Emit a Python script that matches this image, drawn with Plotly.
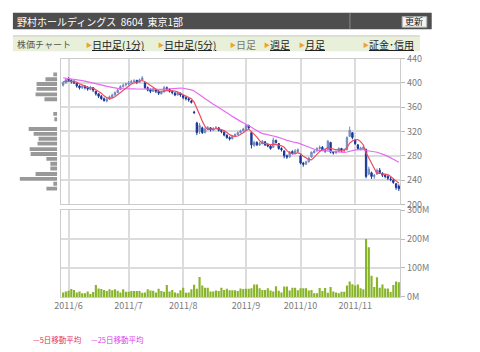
import pandas as pd
import plotly.graph_objects as go

# ---------------- data ----------------
start_date = "2011-05-30"
end_date = "2011-11-25"
jp_holidays = ["2011-07-18", "2011-09-19", "2011-09-23", "2011-10-10", "2011-11-03", "2011-11-23"]
month_labels = ["2011/6", "2011/7", "2011/8", "2011/9", "2011/10", "2011/11"]

opens = [396, 400, 406, 404, 401, 399, 395, 392, 395, 393, 389, 392, 386, 382, 378, 374, 370, 373, 376, 380,
         384, 389, 394, 397, 398, 400, 402, 404, 401, 405, 400, 392, 389, 386, 389, 386, 382, 385, 392, 389,
         386, 383, 380, 383, 379, 376, 374, 370, 352, 334, 320, 326, 318, 324, 326, 322, 325, 326, 322, 319,
         314, 310, 308, 312, 315, 318, 321, 322, 330, 318, 297, 302, 298, 300, 303, 299, 296, 294, 305, 300,
         292, 288, 280, 278, 287, 284, 287, 280, 268, 266, 270, 278, 285, 289, 292, 294, 289, 290, 302, 286,
         285, 287, 292, 289, 290, 312, 318, 306, 298, 290, 292, 290, 250, 252, 246, 250, 256, 251, 248, 246,
         242, 240, 234, 230]
highs = [402, 408, 409, 406, 405, 400, 397, 397, 396, 394, 395, 393, 387, 383, 380, 376, 375, 379, 382, 386,
         390, 396, 399, 400, 403, 405, 406, 405, 407, 411, 401, 394, 391, 392, 390, 388, 387, 395, 394, 391,
         388, 385, 386, 384, 380, 378, 376, 372, 354, 336, 334, 328, 327, 329, 327, 327, 329, 327, 323, 320,
         315, 312, 314, 317, 320, 323, 326, 332, 331, 320, 305, 304, 303, 306, 304, 300, 298, 310, 307, 301,
         294, 289, 282, 288, 289, 291, 292, 282, 270, 272, 278, 287, 290, 294, 297, 296, 292, 306, 303, 288,
         289, 294, 293, 292, 312, 328, 319, 307, 299, 295, 296, 292, 262, 254, 250, 259, 260, 253, 250, 248,
         246, 242, 235, 233]
lows = [394, 399, 402, 399, 398, 392, 389, 390, 389, 387, 388, 385, 379, 375, 372, 369, 368, 372, 375, 379,
        383, 388, 392, 394, 396, 399, 400, 398, 400, 404, 390, 386, 383, 385, 383, 380, 381, 384, 387, 384,
        381, 378, 379, 377, 373, 371, 369, 366, 349, 314, 316, 316, 317, 322, 320, 321, 324, 320, 317, 312,
        308, 305, 307, 311, 314, 317, 320, 320, 324, 292, 295, 296, 296, 299, 296, 294, 290, 293, 300, 290,
        287, 276, 275, 277, 282, 283, 286, 266, 262, 265, 269, 277, 284, 286, 290, 288, 285, 289, 284, 282,
        283, 286, 286, 285, 289, 311, 307, 298, 290, 289, 290, 243, 248, 242, 242, 249, 250, 245, 243, 240,
        238, 234, 224, 222]
closes = [400, 405, 404, 402, 400, 395, 392, 394, 392, 390, 392, 388, 382, 378, 374, 371, 373, 377, 380, 384,
          388, 394, 396, 398, 400, 402, 403, 401, 405, 408, 392, 388, 386, 390, 386, 383, 385, 392, 390, 386,
          384, 380, 384, 380, 376, 374, 372, 368, 351, 318, 330, 318, 324, 326, 323, 325, 326, 322, 320, 314,
          310, 308, 312, 315, 318, 321, 324, 330, 326, 298, 302, 298, 300, 304, 298, 296, 292, 306, 302, 292,
          290, 280, 278, 286, 284, 288, 290, 268, 266, 270, 276, 286, 288, 292, 294, 290, 288, 304, 286, 285,
          286, 292, 290, 290, 310, 322, 310, 300, 292, 293, 294, 246, 258, 246, 248, 256, 252, 248, 246, 243,
          241, 236, 228, 226]
# closes before the visible window (feed the moving averages only)
prior_closes = [418, 420, 416, 414, 417, 415, 412, 414, 413, 411, 410, 408, 406, 404, 407, 405, 403, 404, 402,
                401, 402, 404, 403, 401]
volume_m = [15, 19, 21, 27, 24, 15, 19, 13, 13, 19, 10, 17, 41, 29, 27, 24, 20, 26, 23, 26,
            21, 15, 26, 18, 18, 20, 20, 20, 20, 14, 15, 26, 22, 21, 15, 28, 20, 18, 41, 19,
            24, 15, 13, 23, 32, 14, 15, 26, 42, 28, 69, 39, 32, 32, 19, 19, 22, 20, 32, 24,
            28, 23, 23, 23, 20, 29, 27, 28, 28, 30, 43, 43, 30, 24, 24, 30, 22, 19, 37, 21,
            15, 36, 36, 22, 32, 32, 23, 30, 30, 30, 22, 24, 13, 13, 31, 20, 31, 14, 34, 19,
            15, 13, 18, 18, 39, 53, 44, 39, 43, 30, 26, 200, 172, 73, 34, 68, 32, 43, 29, 29,
            17, 41, 53, 51]
# volume-by-price profile (left side)
vbp_price = [414, 406, 398, 390, 381, 373, 365, 357, 349, 340, 332, 324, 316, 308, 300, 291, 283, 275, 267,
             259, 250, 242, 234, 226]
vbp_volume = [4, 12, 21, 21, 22, 13, 0, 0, 4, 3, 0, 29, 24, 19, 20, 28, 27, 11, 7, 7, 22, 38, 4, 11]

price_ticks = [200, 240, 280, 320, 360, 400, 440]
vol_ticks = [0, 100, 200, 300]
vol_labels = ["0M", "100M", "200M", "300M"]

# ---------------- derived ----------------
dates = [d for d in pd.bdate_range(start_date, end_date) if d.strftime("%Y-%m-%d") not in jp_holidays]
idx = list(range(len(dates)))
month_idx = []
for i, d in enumerate(dates):
    if i > 0 and d.month != dates[i - 1].month:
        month_idx.append(i)

allc = prior_closes + closes
n0 = len(prior_closes)
ma5 = [sum(allc[n0 + i - 4:n0 + i + 1]) / 5 for i in idx]
ma25 = [sum(allc[n0 + i - 24:n0 + i + 1]) / 25 for i in idx]

W, H = 480, 352
def px(x):
    return x / W
def py(y):
    return 1 - y / H

FONT = "Noto Sans CJK JP"
GRID = "#dcdcdc"
BORDER = "#cccccc"

fig = go.Figure()
fig.add_trace(go.Candlestick(
    x=idx, open=opens, high=highs, low=lows, close=closes,
    xaxis="x", yaxis="y", showlegend=False, hoverinfo="skip",
    increasing=dict(fillcolor="#93a8d6", line=dict(color="#6f86c0", width=1)),
    decreasing=dict(fillcolor="#183896", line=dict(color="#183896", width=1)),
))
fig.add_trace(go.Scatter(x=idx, y=ma25, mode="lines", line=dict(color="#e36cf2", width=1.2),
                         xaxis="x", yaxis="y", showlegend=False, hoverinfo="skip"))
fig.add_trace(go.Scatter(x=idx, y=ma5, mode="lines", line=dict(color="#f04a64", width=1.2),
                         xaxis="x", yaxis="y", showlegend=False, hoverinfo="skip"))
fig.add_trace(go.Bar(x=idx, y=volume_m, xaxis="x2", yaxis="y2", showlegend=False, hoverinfo="skip",
                     marker=dict(color="#88b42a", line=dict(width=0))))
fig.add_trace(go.Bar(x=vbp_volume, y=vbp_price, orientation="h", width=6.4, xaxis="x3", yaxis="y3",
                     showlegend=False, hoverinfo="skip", marker=dict(color="#999999", line=dict(width=0))))

xr = [-0.7, 123.5]
common_x = dict(range=xr, tickvals=month_idx, showgrid=True, gridcolor=GRID, gridwidth=1.5,
                zeroline=False, showline=True, mirror=True, linecolor=BORDER, ticks="",
                fixedrange=True)
fig.update_layout(
    width=W, height=H, margin=dict(l=0, r=0, t=0, b=0),
    paper_bgcolor="white", plot_bgcolor="white",
    font=dict(family=FONT, size=9, color="#777"),
    bargap=0.22,
    xaxis=dict(domain=[px(55), px(399)], anchor="y", showticklabels=False,
               rangeslider=dict(visible=False), **common_x),
    yaxis=dict(domain=[py(205), py(53.5)], anchor="x", range=[200, 440], tickvals=price_ticks,
               side="right", ticks="outside", ticklen=4, tickcolor="#bbb",
               tickfont=dict(size=9, color="#7a7a7a"), showgrid=True, gridcolor=GRID, gridwidth=1.5,
               zeroline=False, showline=True, mirror=True, linecolor=BORDER),
    xaxis2=dict(domain=[px(55), px(399)], anchor="y2", ticktext=month_labels, showticklabels=True,
                tickfont=dict(size=9, color="#7a7a7a"), **common_x),
    yaxis2=dict(domain=[py(301), py(211)], anchor="x2", range=[0, 300], tickvals=vol_ticks,
                ticktext=vol_labels, side="right", ticks="outside", ticklen=4, tickcolor="#bbb",
                tickfont=dict(size=9, color="#7a7a7a"), showgrid=True, gridcolor=GRID, gridwidth=1.5,
                zeroline=False, showline=True, mirror=True, linecolor=BORDER),
    xaxis3=dict(domain=[px(10), px(51)], anchor="y3", range=[41, 0], visible=False),
    yaxis3=dict(domain=[py(205), py(53.5)], anchor="x3", range=[200, 440], visible=False),
)

shapes = []
annos = []
# header bar
shapes.append(dict(type="rect", xref="paper", yref="paper", x0=px(6), x1=px(431), y0=py(23), y1=py(6),
                   fillcolor="#4e4e4e", line=dict(width=0), layer="below"))
shapes.append(dict(type="line", xref="paper", yref="paper", x0=px(348), x1=px(348), y0=py(23), y1=py(6),
                   line=dict(color="#8a8a8a", width=1)))
shapes.append(dict(type="rect", xref="paper", yref="paper", x0=px(401), x1=px(426), y0=py(21), y1=py(10),
                   fillcolor="#f2f2f2", line=dict(color="#aaa", width=1)))
annos.append(dict(x=px(413.5), y=py(15.5), xanchor="center", text="更新",
                  font=dict(size=9, color="#222", family=FONT)))
annos.append(dict(x=px(8), y=py(15), xanchor="left", text="野村ホールディングス  8604  東京1部",
                  font=dict(size=10, color="white", family=FONT)))
# nav bar
shapes.append(dict(type="rect", xref="paper", yref="paper", x0=px(6), x1=px(419), y0=py(46), y1=py(30),
                   fillcolor="#e8f0d9", line=dict(width=0), layer="below"))
shapes.append(dict(type="line", xref="paper", yref="paper", x0=px(6), x1=px(419), y0=py(30), y1=py(30),
                   line=dict(color="#c8c8c8", width=1)))
annos.append(dict(x=px(8), y=py(38.5), xanchor="left", text="株価チャート",
                  font=dict(size=9, color="#555", family=FONT)))
nav_items = [(84, "<u>日中足(1分)</u>", "#222"), (157, "<u>日中足(5分)</u>", "#222"),
             (230, "日足", "#777"), (265, "<u>週足</u>", "#222"), (300, "<u>月足</u>", "#222"),
             (365, "<u>証金･信用</u>", "#222")]
for x0, t, c in nav_items:
    annos.append(dict(x=px(x0 - 6), y=py(38.5), xanchor="left", text="▶",
                      font=dict(size=6, color="#f3a02a", family=FONT)))
    annos.append(dict(x=px(x0), y=py(38.5), xanchor="left", text=t,
                      font=dict(size=10, color=c, family=FONT)))
# legend
annos.append(dict(x=px(24), y=py(345.5), xanchor="left", text="—5日移動平均",
                  font=dict(size=7.5, color="#e62d55", family=FONT)))
annos.append(dict(x=px(83), y=py(345.5), xanchor="left", text="—25日移動平均",
                  font=dict(size=7.5, color="#dd3cec", family=FONT)))
for a in annos:
    a.update(xref="paper", yref="paper", showarrow=False, yanchor=a.get("yanchor", "middle"))
fig.update_layout(shapes=shapes, annotations=annos)

fig.write_html("out.html")
